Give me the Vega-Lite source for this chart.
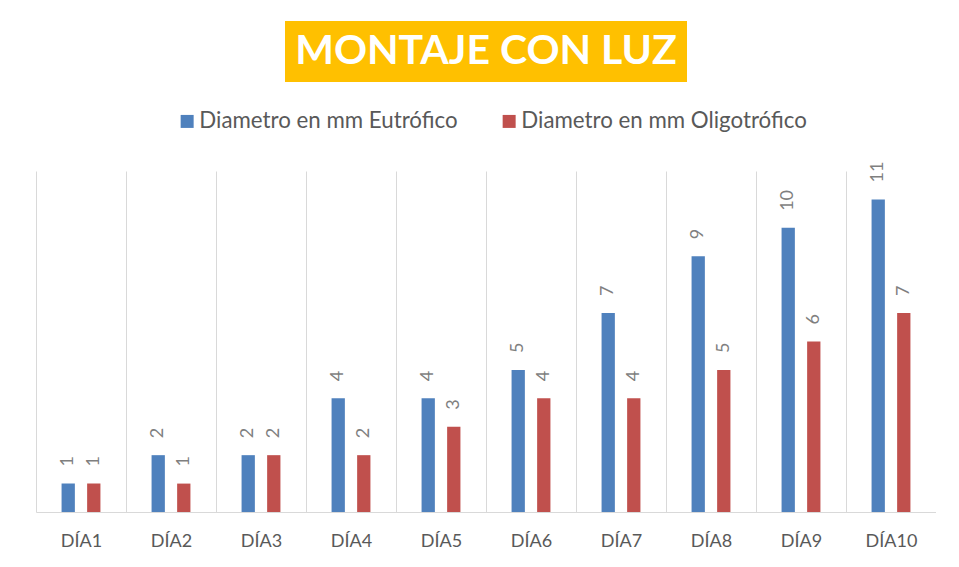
{
  "$schema": "https://vega.github.io/schema/vega-lite/v6.json",
  "background": "white",
  "padding": {"left": 36, "top": 21, "right": 0, "bottom": 0},
  "config": {
    "font": "Lato",
    "view": {"stroke": null},
    "concat": {"spacing": 79}
  },
  "center": true,
  "vconcat": [
    {
      "width": 402,
      "height": 61,
      "view": {"fill": "#FFC000", "stroke": null},
      "data": {"values": [{"titulo": "MONTAJE CON LUZ"}]},
      "mark": {"type": "text", "font": "Lato", "fontWeight": "bold", "fontSize": 41, "color": "white", "align": "center", "baseline": "middle"},
      "encoding": {"text": {"field": "titulo"}}
    },
    {
      "width": 900,
      "height": 341,
      "data": {
        "values": [
          {"dia": "DÍA1", "serie": "Diametro en mm Eutrófico", "valor": 1},
          {"dia": "DÍA1", "serie": "Diametro en mm Oligotrófico", "valor": 1},
          {"dia": "DÍA2", "serie": "Diametro en mm Eutrófico", "valor": 2},
          {"dia": "DÍA2", "serie": "Diametro en mm Oligotrófico", "valor": 1},
          {"dia": "DÍA3", "serie": "Diametro en mm Eutrófico", "valor": 2},
          {"dia": "DÍA3", "serie": "Diametro en mm Oligotrófico", "valor": 2},
          {"dia": "DÍA4", "serie": "Diametro en mm Eutrófico", "valor": 4},
          {"dia": "DÍA4", "serie": "Diametro en mm Oligotrófico", "valor": 2},
          {"dia": "DÍA5", "serie": "Diametro en mm Eutrófico", "valor": 4},
          {"dia": "DÍA5", "serie": "Diametro en mm Oligotrófico", "valor": 3},
          {"dia": "DÍA6", "serie": "Diametro en mm Eutrófico", "valor": 5},
          {"dia": "DÍA6", "serie": "Diametro en mm Oligotrófico", "valor": 4},
          {"dia": "DÍA7", "serie": "Diametro en mm Eutrófico", "valor": 7},
          {"dia": "DÍA7", "serie": "Diametro en mm Oligotrófico", "valor": 4},
          {"dia": "DÍA8", "serie": "Diametro en mm Eutrófico", "valor": 9},
          {"dia": "DÍA8", "serie": "Diametro en mm Oligotrófico", "valor": 5},
          {"dia": "DÍA9", "serie": "Diametro en mm Eutrófico", "valor": 10},
          {"dia": "DÍA9", "serie": "Diametro en mm Oligotrófico", "valor": 6},
          {"dia": "DÍA10", "serie": "Diametro en mm Eutrófico", "valor": 11},
          {"dia": "DÍA10", "serie": "Diametro en mm Oligotrófico", "valor": 7}
        ]
      },
      "encoding": {
        "x": {
          "field": "dia", "type": "nominal", "sort": null,
          "scale": {"paddingInner": 0, "paddingOuter": 0},
          "axis": {
            "title": null, "tickBand": "extent", "ticks": false,
            "grid": true, "gridColor": "#D9D9D9", "gridWidth": 1,
            "domainColor": "#D9D9D9", "domainWidth": 1,
            "labelAngle": 0, "labelFont": "Lato", "labelFontSize": 18,
            "labelColor": "#595959", "labelPadding": 20
          }
        },
        "xOffset": {
          "field": "serie", "type": "nominal",
          "scale": {"paddingInner": 0.48, "paddingOuter": 1.2}
        },
        "y": {
          "field": "valor", "type": "quantitative",
          "scale": {"domain": [0, 12], "nice": false},
          "axis": null
        }
      },
      "layer": [
        {
          "mark": {"type": "bar"},
          "encoding": {
            "color": {
              "field": "serie", "type": "nominal",
              "scale": {"range": ["#4F81BD", "#C0504D"]},
              "legend": {
                "title": null, "orient": "none", "direction": "horizontal",
                "legendX": 140, "legendY": 89,
                "symbolType": "square", "symbolSize": 169, "symbolStrokeWidth": 0,
                "labelFont": "Lato", "labelFontSize": 22.3, "labelColor": "#595959",
                "labelOffset": 1, "columnPadding": 40, "labelLimit": 400
              }
            }
          }
        },
        {
          "mark": {"type": "text", "angle": 270, "align": "left", "baseline": "middle", "dx": 17, "font": "Lato", "fontSize": 18},
          "encoding": {
            "text": {"field": "valor", "type": "quantitative"},
            "color": {"value": "#7F7F7F"}
          }
        }
      ]
    }
  ]
}
